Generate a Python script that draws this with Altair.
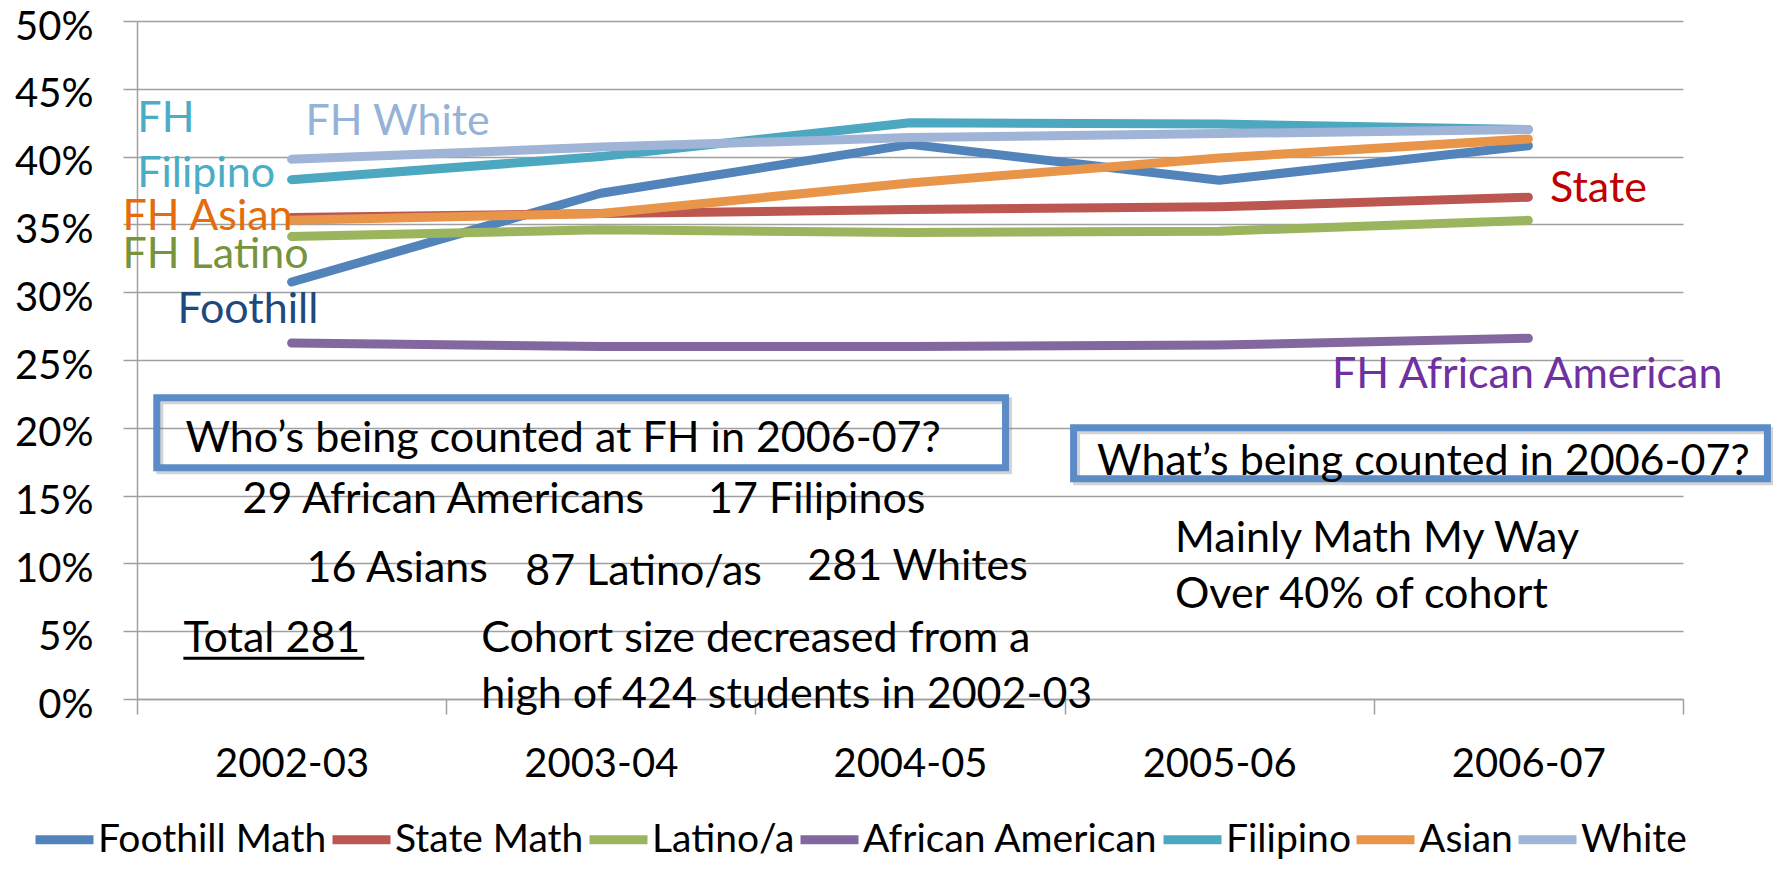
import altair as alt
import pandas as pd

# ---- data ----
years = ["2002-03", "2003-04", "2004-05", "2005-06", "2006-07"]
series = ["Foothill Math", "State Math", "Latino/a", "African American", "Filipino", "Asian", "White"]
foothill = [0.3075, 0.373, 0.409, 0.3825, 0.408]
state = [0.355, 0.358, 0.361, 0.363, 0.370]
latino = [0.341, 0.346, 0.344, 0.345, 0.353]
african = [0.2625, 0.260, 0.260, 0.261, 0.266]
filipino = [0.383, 0.400, 0.425, 0.424, 0.420]
asian = [0.353, 0.358, 0.3805, 0.399, 0.413]
white = [0.398, 0.407, 0.414, 0.417, 0.420]
series_colors = ["#5283BA", "#BC5650", "#9BB45E", "#8368A0", "#4BA8C0", "#E89549", "#9FB4D6"]
y_ticks = [0.0, 0.05, 0.10, 0.15, 0.20, 0.25, 0.30, 0.35, 0.40, 0.45, 0.50]

# annotation texts (x in category units 0..5, y in share units)
ann_text = ["FH", "Filipino", "FH White", "FH Asian", "FH Latino", "Foothill", "State",
            "FH African American",
            "Who\u2019s being counted at FH in 2006-07?", "29 African Americans", "17 Filipinos",
            "16 Asians", "87 Latino/as", "281 Whites", "Total 281",
            "Cohort size decreased from a", "high of 424 students in 2002-03",
            "What\u2019s being counted in 2006-07?", "Mainly Math My Way", "Over 40% of cohort"]
ann_x = [0.001, 0.001, 0.545, -0.047, -0.047, 0.131, 4.570, 3.865,
         0.157, 0.341, 1.847, 0.548, 1.256, 2.168, 0.150, 1.113, 1.113, 3.105, 3.357, 3.357]
ann_y = [0.418, 0.3776, 0.4157, 0.3456, 0.3176, 0.2771, 0.3663, 0.2291,
         0.1819, 0.1369, 0.1369, 0.0861, 0.0838, 0.0875, 0.0344, 0.0344, -0.0068,
         0.1650, 0.1082, 0.0669]
ann_color = ["#4BACC6", "#4BACC6", "#95B3D7", "#E46C0A", "#77933C", "#1F497D", "#C00000",
             "#7030A0"] + ["#000000"] * 12

box_x = [0.064, 3.029]
box_x2 = [2.809, 5.273]
box_y = [0.2221, 0.2000]
box_y2 = [0.1705, 0.1624]

underline_x = [0.150]
underline_x2 = [0.735]
underline_y = [0.0300]

# ---- tables ----
vals = [foothill, state, latino, african, filipino, asian, white]
rows = []
for s, v in zip(series, vals):
    for yr, val in zip(years, v):
        rows.append({"series": s, "year": yr, "value": val})
df = pd.DataFrame(rows)
ann = pd.DataFrame({"text": ann_text, "x": ann_x, "y": ann_y, "color": ann_color})
boxes = pd.DataFrame({"x": box_x, "x2": box_x2, "y": box_y, "y2": box_y2})
uline = pd.DataFrame({"x": underline_x, "x2": underline_x2, "y": underline_y})

FONT = "Lato"
yscale = alt.Scale(domain=[0, 0.5], nice=False, zero=True)
xq = alt.Scale(domain=[0, 5], nice=False, zero=False)

lines = alt.Chart(df).mark_line(strokeWidth=9, strokeCap="round", strokeJoin="round").encode(
    x=alt.X("year:N", sort=years, bandPosition=0.5,
            scale=alt.Scale(type="band", paddingInner=0, paddingOuter=0),
            axis=alt.Axis(title=None, tickBand="extent", tickSize=15, labelPadding=30,
                          labelAngle=0, grid=False, labelFontSize=40)),
    y=alt.Y("value:Q", scale=yscale,
            axis=alt.Axis(title=None, values=y_ticks, format=".0%", tickSize=14,
                          labelPadding=30, grid=True, labelFontSize=40, labelOffset=6)),
    color=alt.Color("series:N", sort=series,
                    scale=alt.Scale(domain=series, range=series_colors),
                    legend=alt.Legend(orient="none", legendX=-106, legendY=785,
                                      direction="horizontal", title=None,
                                      symbolType="stroke", symbolStrokeWidth=9,
                                      symbolSize=3364, labelFont=FONT, labelFontSize=39,
                                      labelColor="black", labelLimit=0, labelOffset=0,
                                      columnPadding=-13, padding=0, rowPadding=0)),
    detail="series:N",
)

shadow = alt.Chart(boxes).mark_rect(fillOpacity=0, stroke="#808080", strokeOpacity=0.35,
                                    strokeWidth=7, xOffset=3, x2Offset=3, yOffset=3,
                                    y2Offset=3).encode(
    x=alt.X("x:Q", scale=xq, axis=None), x2="x2:Q",
    y=alt.Y("y:Q", scale=yscale), y2="y2:Q")

rects = alt.Chart(boxes).mark_rect(fillOpacity=0, stroke="#5B8CC8", strokeWidth=7).encode(
    x=alt.X("x:Q", scale=xq, axis=None), x2="x2:Q",
    y=alt.Y("y:Q", scale=yscale), y2="y2:Q")

texts = alt.Chart(ann).mark_text(align="left", baseline="alphabetic", font=FONT,
                                 fontSize=43).encode(
    x=alt.X("x:Q", scale=xq, axis=None),
    y=alt.Y("y:Q", scale=yscale),
    text="text:N",
    color=alt.Color("color:N", scale=None),
)

underline = alt.Chart(uline).mark_rule(color="black", strokeWidth=3).encode(
    x=alt.X("x:Q", scale=xq, axis=None), x2="x2:Q",
    y=alt.Y("y:Q", scale=yscale))

chart = alt.layer(lines, shadow, rects, texts, underline).resolve_scale(
    x="independent", color="independent"
).properties(
    width=1546, height=678,
    padding={"left": 129, "top": 13, "right": 90, "bottom": 162},
    autosize=alt.AutoSizeParams(type="none"),
).configure_axis(
    labelFont=FONT, labelColor="black",
    domainColor="#A0A0A0", domainWidth=1.5,
    tickColor="#A0A0A0", tickWidth=1.5,
    gridColor="#A0A0A0", gridWidth=1.5,
).configure_view(strokeWidth=0)

chart.save("out.html", embed_options={"renderer": "svg", "actions": False})
